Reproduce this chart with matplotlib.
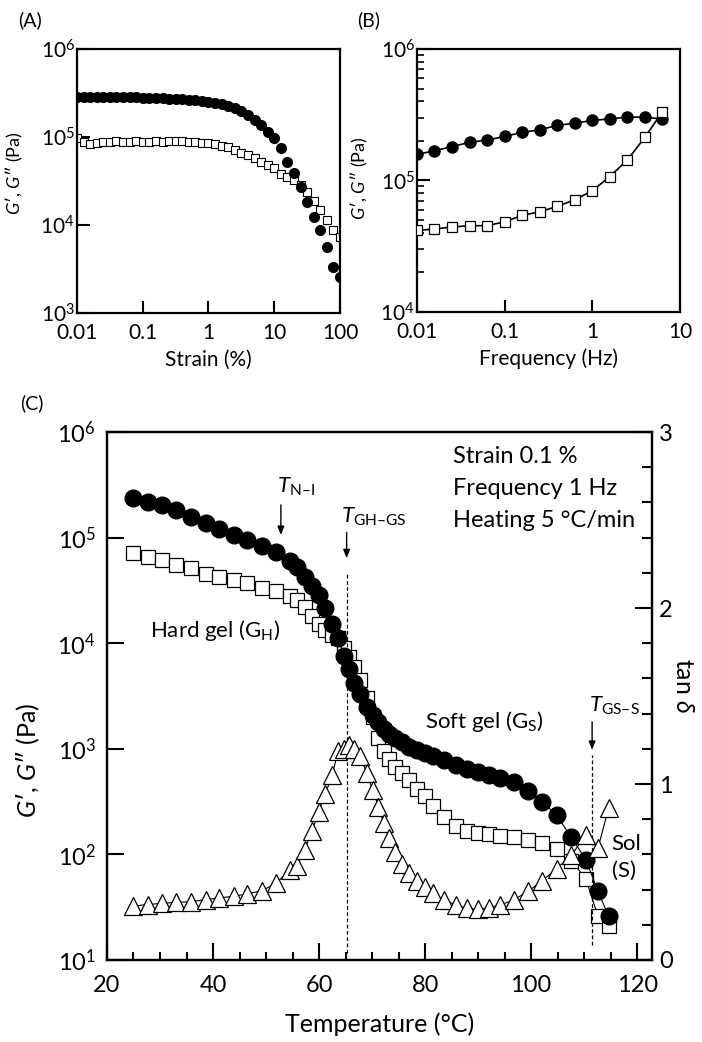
import matplotlib
matplotlib.use("Agg")
import matplotlib.pyplot as plt
import matplotlib.ticker as mticker

plt.rcParams["font.family"] = ["Lato", "DejaVu Sans"]
plt.rcParams["mathtext.fontset"] = "custom"
plt.rcParams["mathtext.rm"] = "Lato"
plt.rcParams["mathtext.it"] = "Lato:italic"
plt.rcParams["mathtext.bf"] = "Lato:bold"
plt.rcParams["axes.linewidth"] = 1.6

# (A) strain sweep
strain_pct = [0.01, 0.0126, 0.0158, 0.02, 0.0251, 0.0316, 0.0398, 0.0501, 0.0631, 0.0794,
              0.1, 0.126, 0.158, 0.2, 0.251, 0.316, 0.398, 0.501, 0.631, 0.794,
              1.0, 1.26, 1.58, 2.0, 2.51, 3.16, 3.98, 5.01, 6.31, 7.94,
              10.0, 12.6, 15.8, 20.0, 25.1, 31.6, 39.8, 50.1, 63.1, 79.4, 100.0]
strain_g1 = [2.87e5, 2.87e5, 2.86e5, 2.86e5, 2.85e5, 2.85e5, 2.84e5, 2.83e5, 2.82e5, 2.81e5,
             2.80e5, 2.79e5, 2.77e5, 2.75e5, 2.73e5, 2.70e5, 2.68e5, 2.65e5, 2.63e5, 2.59e5,
             2.52e5, 2.45e5, 2.37e5, 2.25e5, 2.12e5, 1.97e5, 1.78e5, 1.56e5, 1.37e5, 1.15e5,
             9.66e4, 7.43e4, 5.25e4, 3.86e4, 2.73e4, 1.84e4, 1.24e4, 8.77e3, 5.68e3, 3.37e3, 2.59e3]
strain_g2 = [9.66e4, 8.85e4, 8.32e4, 8.63e4, 8.85e4, 8.80e4, 8.90e4, 8.85e4, 8.80e4, 8.90e4,
             8.85e4, 8.85e4, 8.90e4, 8.85e4, 9.00e4, 9.00e4, 9.00e4, 8.85e4, 8.69e4, 8.63e4,
             8.47e4, 8.26e4, 7.98e4, 7.64e4, 7.11e4, 6.64e4, 6.19e4, 5.73e4, 5.25e4, 4.81e4,
             4.41e4, 3.80e4, 3.54e4, 3.24e4, 2.85e4, 2.39e4, 1.89e4, 1.48e4, 1.14e4, 8.77e3, 7.36e3]

# (B) frequency sweep
freq_hz = [0.01, 0.0158, 0.0251, 0.0398, 0.0631, 0.1, 0.158, 0.251, 0.398, 0.631,
           1.0, 1.58, 2.51, 3.98, 6.31]
freq_g1 = [1.58e5, 1.68e5, 1.81e5, 1.95e5, 2.03e5, 2.16e5, 2.32e5, 2.43e5, 2.62e5, 2.73e5,
           2.86e5, 2.94e5, 3.03e5, 3.03e5, 2.93e5]
freq_g2 = [4.17e4, 4.27e4, 4.43e4, 4.53e4, 4.53e4, 4.85e4, 5.42e4, 5.78e4, 6.35e4, 7.13e4,
           8.35e4, 1.07e5, 1.43e5, 2.13e5, 3.34e5]

# (C) temperature sweep
temp_c = [25.0, 27.7, 30.3, 33.0, 35.8, 38.6, 41.2, 43.9, 46.5, 49.3, 51.9, 54.6, 55.8, 57.3,
          58.7, 59.9, 61.2, 62.5, 63.6, 64.7, 65.6, 66.6, 67.8, 69.0, 70.1, 71.2, 72.2, 73.2,
          74.3, 75.6, 76.9, 78.4, 79.9, 81.5, 83.6, 85.8, 87.9, 89.9, 92.0, 94.2, 96.7, 99.4,
          102.1, 104.8, 107.6, 110.3, 112.6, 114.6]
temp_g1 = [2.37e5, 2.19e5, 2.04e5, 1.82e5, 1.58e5, 1.38e5, 1.20e5, 1.07e5, 9.55e4, 8.32e4,
           7.24e4, 6.03e4, 5.25e4, 4.27e4, 3.47e4, 2.88e4, 2.14e4, 1.51e4, 1.12e4, 7.59e3,
           5.75e3, 4.17e3, 3.31e3, 2.51e3, 2.09e3, 1.78e3, 1.55e3, 1.38e3, 1.26e3, 1.15e3,
           1.05e3, 977, 912, 851, 776, 708, 646, 603, 562, 525, 490, 398, 316, 234, 145, 89, 45, 26]
temp_g2 = [7.08e4, 6.61e4, 6.17e4, 5.50e4, 5.13e4, 4.57e4, 4.27e4, 3.98e4, 3.72e4, 3.31e4,
           3.09e4, 2.82e4, 2.57e4, 2.19e4, 1.82e4, 1.51e4, 1.32e4, 1.20e4, 1.12e4, 8.91e3,
           7.41e3, 5.89e3, 4.47e3, 3.02e3, 2.00e3, 1.26e3, 955, 794, 676, 589,
           501, 417, 355, 288, 224, 186, 166, 158, 155, 148, 145, 138, 129, 112, 87, 59, 26, 21]
temp_tan = [0.307, 0.315, 0.322, 0.327, 0.331, 0.343, 0.353, 0.362, 0.376, 0.394, 0.438, 0.512,
            0.535, 0.626, 0.733, 0.84, 0.946, 1.05, 1.19, 1.20, 1.22, 1.20, 1.16, 1.06, 0.966,
            0.871, 0.777, 0.691, 0.615, 0.545, 0.492, 0.45, 0.417, 0.379, 0.341, 0.313, 0.294,
            0.288, 0.297, 0.313, 0.341, 0.39, 0.45, 0.519, 0.595, 0.71, 0.635, 0.862]

# transition temperatures marked in (C)
T_NI = 52.8
T_GH_GS = 65.2
T_GS_S = 111.5

GLABEL = r"$G$′, $G$″ (Pa)"


def log_ticks(ax, size, length, pad_x, pad_y):
    ax.set_xscale("log")
    ax.set_yscale("log")
    ax.xaxis.set_major_formatter(mticker.FuncFormatter(lambda v, _: f"{v:g}"))
    ax.xaxis.set_minor_locator(mticker.NullLocator())
    ax.tick_params(which="both", direction="in", top=False, right=False, labelsize=size)
    ax.tick_params(axis="x", which="major", length=length, width=1.5, pad=pad_x)
    ax.tick_params(axis="y", which="major", length=length, width=1.5, pad=pad_y)


def panel_a(fig):
    ax = fig.add_axes([0.1097, 0.6996, 0.3746, 0.2534])
    ax.plot(strain_pct, strain_g2, "s", ms=6, mfc="white", mec="black", mew=0.8, zorder=2)
    ax.plot(strain_pct, strain_g1, "o", ms=7, color="black", zorder=3)
    log_ticks(ax, 15, 9, 7, 1.5)
    ax.set_xlim(0.01, 100)
    ax.set_ylim(1e3, 1e6)
    ax.yaxis.set_minor_locator(mticker.NullLocator())
    ax.set_xlabel("Strain (%)", fontsize=15)
    ax.xaxis.set_label_coords(0.5, -0.14)
    ax.set_ylabel(GLABEL, fontsize=13)
    ax.yaxis.set_label_coords(-0.198, 0.53)
    fig.text(18 / 702, 1 - 20 / 1042, "(A)", fontsize=14, va="center")


def panel_b(fig):
    ax = fig.add_axes([0.594, 0.7006, 0.3746, 0.2524])
    ax.plot(freq_hz, freq_g1, "-o", ms=8, lw=1.2, color="black", zorder=2)
    ax.plot(freq_hz, freq_g2, "-s", ms=6.5, lw=1.2, color="black", mfc="white", mec="black",
            mew=0.9, zorder=3)
    log_ticks(ax, 15, 9, 7, 1.5)
    ax.set_xlim(0.01, 10)
    ax.set_ylim(1e4, 1e6)
    ax.yaxis.set_minor_locator(mticker.LogLocator(base=10, subs=range(2, 10), numticks=10))
    ax.yaxis.set_minor_formatter(mticker.NullFormatter())
    ax.tick_params(axis="y", which="minor", length=5, width=1.2)
    ax.set_xlabel("Frequency (Hz)", fontsize=15)
    ax.xaxis.set_label_coords(0.5, -0.14)
    ax.set_ylabel(GLABEL, fontsize=13)
    ax.yaxis.set_label_coords(-0.179, 0.51)
    fig.text(357 / 702, 1 - 20 / 1042, "(B)", fontsize=14, va="center")


def panel_c(fig):
    ax = fig.add_axes([0.1524, 0.0787, 0.7764, 0.5067])
    ax.plot(temp_c, temp_g2, "-s", ms=10, lw=0.8, color="black", mfc="white", mec="black",
            mew=0.9, zorder=2)
    ax.plot(temp_c, temp_g1, "-o", ms=12, lw=0.8, color="black", zorder=3)
    ax.set_yscale("log")
    ax.set_xlim(20, 122.8)
    ax.set_ylim(10, 1e6)
    ax.xaxis.set_major_locator(mticker.MultipleLocator(20))
    ax.xaxis.set_minor_locator(mticker.MultipleLocator(5))
    ax.yaxis.set_minor_locator(mticker.NullLocator())
    ax.tick_params(which="both", direction="in", top=False, right=False, labelsize=17)
    ax.tick_params(axis="x", which="major", length=12, width=1.5, pad=11)
    ax.tick_params(axis="x", which="minor", length=6, width=1.5)
    ax.tick_params(axis="y", which="major", length=12, width=1.5, pad=8)
    ax.set_xlabel("Temperature (°C)", fontsize=18)
    ax.xaxis.set_label_coords(0.5, -0.1)
    ax.set_ylabel(GLABEL, fontsize=18)
    ax.yaxis.set_label_coords(-0.119, 0.379)

    ax2 = ax.twinx()
    ax2.plot(temp_c, temp_tan, "-^", ms=13, lw=0.8, color="black", mfc="white", mec="black",
             mew=0.9)
    ax2.set_ylim(0, 3)
    ax2.yaxis.set_major_locator(mticker.MultipleLocator(1))
    ax2.yaxis.set_minor_locator(mticker.MultipleLocator(0.2))
    ax2.tick_params(which="both", direction="in", labelsize=17)
    ax2.tick_params(axis="y", which="major", length=12, width=1.5, pad=5)
    ax2.tick_params(axis="y", which="minor", length=7, width=1.5)
    ax2.set_ylabel(r"tan $\delta$", fontsize=18, rotation=270, va="bottom")
    ax2.yaxis.set_label_coords(1.037, 0.52)

    tr = ax.get_xaxis_transform()
    arrow = dict(arrowstyle="-|>,head_length=0.5,head_width=0.2", color="black", lw=1,
                 shrinkA=0, shrinkB=0)
    for t, y0, y1 in [(T_NI, 0.862, 0.805), (T_GH_GS, 0.81, 0.761), (T_GS_S, 0.451, 0.398)]:
        ax.annotate("", xy=(t, y1), xytext=(t, y0), xycoords=tr, textcoords=tr, arrowprops=arrow)
    ax.axvline(T_GH_GS, ymin=0.013, ymax=0.733, color="black", lw=0.9, ls=(0, (3, 2)))
    ax.axvline(T_GS_S, ymin=0.028, ymax=0.388, color="black", lw=0.9, ls=(0, (3, 2)))

    ax.text(52.0, 0.886, r"$T_{\mathrm{N–I}}$", transform=tr, fontsize=16, va="baseline")
    ax.text(64.2, 0.828, r"$T_{\mathrm{GH–GS}}$", transform=tr, fontsize=16, va="baseline")
    ax.text(110.9, 0.470, r"$T_{\mathrm{GS–S}}$", transform=tr, fontsize=16, va="baseline")
    ax.text(28.1, 0.612, r"Hard gel (G$_{\mathrm{H}}$)", transform=tr, fontsize=16, va="baseline")
    ax.text(80.0, 0.439, r"Soft gel (G$_{\mathrm{S}}$)", transform=tr, fontsize=16, va="baseline")
    ax.text(115.2, 0.208, "Sol", transform=tr, fontsize=16, va="baseline")
    ax.text(115.2, 0.158, "(S)", transform=tr, fontsize=16, va="baseline")
    for frac, line in [(0.941, "Strain 0.1 %"), (0.881, "Frequency 1 Hz"),
                       (0.820, "Heating 5 °C/min")]:
        ax.text(85.25, frac, line, transform=tr, fontsize=17, va="baseline")
    fig.text(20 / 702, 1 - 403 / 1042, "(C)", fontsize=14, va="center")


def main():
    fig = plt.figure(figsize=(7.02, 10.42), dpi=100)
    panel_a(fig)
    panel_b(fig)
    panel_c(fig)
    fig.savefig("out.png", dpi=100, facecolor="white")
    plt.close(fig)


if __name__ == "__main__":
    main()
